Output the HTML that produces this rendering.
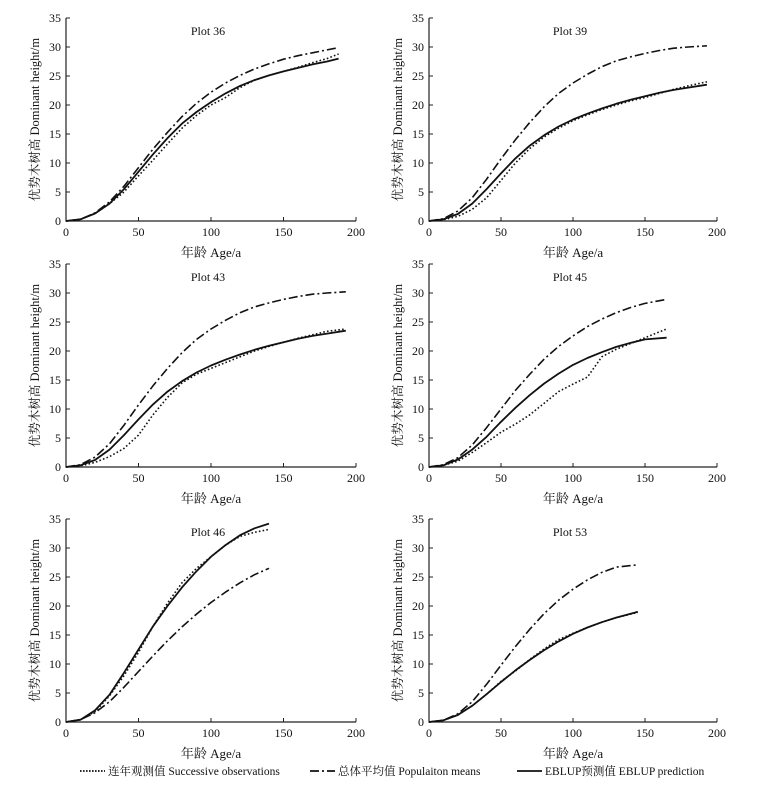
<!DOCTYPE html>
<html><head><meta charset="utf-8"><style>
html,body{margin:0;padding:0;background:#fff}
svg text{font-family:"Liberation Serif","Noto Serif CJK SC",serif;fill:#111}
</style></head><body>
<svg id="chart" width="779" height="792"></svg>
<script>
const plotTitles=["Plot 36","Plot 39","Plot 43","Plot 45","Plot 46","Plot 53"];
const ages36=[0,10,20,30,40,50,60,70,80,90,100,110,120,130,140,150,160,170,180,188];
const obs36=[0,0.3,1.3,3,5,7.8,10.5,13.3,16,18.2,20,21.3,23,24.3,25.1,25.8,26.5,27.3,28,28.8];
const pop36=[0,0.3,1.4,3.3,6,9.2,12.4,15.3,18,20.3,22.2,23.8,25.1,26.2,27.1,27.9,28.5,29,29.5,29.9];
const eb36=[0,0.3,1.3,3,5.5,8.5,11.5,14.3,16.8,18.8,20.5,22,23.3,24.3,25.1,25.8,26.4,27,27.5,28];
const ages39=[0,10,20,30,40,50,60,70,80,90,100,110,120,130,140,150,160,170,180,193];
const obs39=[0,0.2,0.8,2,4,7,10,12.5,14.5,16,17.3,18.3,19.2,20,20.7,21.3,22,22.7,23.3,24];
const pop39=[0,0.4,1.7,4,7.2,10.7,14,17,19.7,22,23.8,25.3,26.6,27.6,28.3,28.9,29.4,29.8,30,30.2];
const eb39=[0,0.3,1.2,3,5.5,8.2,10.8,13,14.8,16.3,17.5,18.5,19.4,20.2,20.9,21.5,22.1,22.6,23,23.5];
const ages43=ages39;
const obs43=[0,0.2,0.8,1.8,3.2,5.5,9,12,14.5,16,17,18,19,20,20.8,21.5,22.2,22.8,23.4,23.8];
const pop43=pop39;
const eb43=eb39;
const ages45=[0,10,20,30,40,50,60,70,80,90,100,110,120,130,140,150,165];
const obs45=[0,0.3,1,2.5,4.2,6,7.4,9,11,13,14.3,15.5,19,20.3,21.3,22.3,23.8];
const pop45=[0,0.4,1.6,3.8,6.8,10,13.2,16,18.6,20.8,22.6,24.2,25.5,26.6,27.5,28.2,28.9];
const eb45=[0,0.3,1.3,3,5.2,7.8,10.2,12.4,14.4,16.1,17.6,18.8,19.8,20.7,21.4,22,22.3];
const ages46=[0,10,20,30,40,50,60,70,80,90,100,110,120,130,140];
const obs46=[0,0.4,1.8,4.5,8,12,16.5,20.5,24,26.5,28.5,30.5,32,32.7,33.2];
const pop46=[0,0.4,1.6,3.5,6,8.7,11.4,14,16.4,18.6,20.6,22.4,24,25.4,26.5];
const eb46=[0,0.4,2,4.7,8.5,12.5,16.5,20,23.2,26,28.5,30.5,32.2,33.4,34.2];
const ages53=[0,10,20,30,40,50,60,70,80,90,100,110,120,130,145];
const obs53=[0,0.3,1.2,2.8,4.8,7,8.8,10.8,12.6,14.2,15.3,16.3,17.2,18,18.9];
const pop53=[0,0.3,1.4,3.5,6.5,9.8,13,16,18.7,21,22.9,24.5,25.8,26.7,27.1];
const eb53=[0,0.3,1.2,2.8,4.8,6.9,8.9,10.7,12.4,13.9,15.2,16.3,17.2,18,19];
const xTicks=[0,50,100,150,200];
const yTicks=[0,5,10,15,20,25,30,35];
const panelsData=[[ages36,obs36,pop36,eb36],[ages39,obs39,pop39,eb39],[ages43,obs43,pop43,eb43],[ages45,obs45,pop45,eb45],[ages46,obs46,pop46,eb46],[ages53,obs53,pop53,eb53]];

const NS="http://www.w3.org/2000/svg";
const svg=document.getElementById('chart');
function mk(tag,attrs,parent){const e=document.createElementNS(NS,tag);for(const k in attrs)e.setAttribute(k,attrs[k]);(parent||svg).appendChild(e);return e;}
const colX=[[66,356],[429,717]];
const rowY=[221,467,722];
const H=203;
panelsData.forEach((pd,i)=>{
  const c=i%2,r=Math.floor(i/2);
  const x0=colX[c][0],x1=colX[c][1],y0=rowY[r];
  const sx=v=>x0+(v/200)*(x1-x0);
  const sy=v=>y0-(v/35)*H;
  const g=mk('g',{});
  
  
  const ax=mk('path',{d:`M${x0},${sy(35)}V${y0}H${x1}`,stroke:'#222','stroke-width':1.2,fill:'none'},g);
  
  
  xTicks.forEach(t=>{
    mk('line',{x1:sx(t),x2:sx(t),y1:y0,y2:y0-4,stroke:'#222'},g);
    const tx=mk('text',{x:sx(t),y:y0+15,'text-anchor':'middle','font-size':12},g);tx.textContent=t;
    
    
  });
  yTicks.forEach(t=>{
    mk('line',{x1:x0,x2:x0+4,y1:sy(t),y2:sy(t),stroke:'#222'},g);
    const tx=mk('text',{x:x0-5,y:sy(t)+4,'text-anchor':'end','font-size':12},g);tx.textContent=t;
    
    
  });
  const tt=mk('text',{x:(x0+x1)/2-3,y:sy(35)+17,'text-anchor':'middle','font-size':12},g);tt.textContent=plotTitles[i];
  
  
  const xl=mk('text',{x:(x0+x1)/2,y:y0+36,'text-anchor':'middle','font-size':13},g);xl.textContent='年龄 Age/a';
  
  
  const yl=mk('text',{x:0,y:0,'text-anchor':'middle','font-size':12.5,transform:`translate(${x0-27},${y0-H/2}) rotate(-90)`},g);yl.textContent='优势木树高 Dominant height/m';
  
  
  const ages=pd[0];
  const styles=[['1.6,2.2',1.6,'observed-line'],['9,3,2,3',1.6,'population-mean-line'],['',1.8,'eblup-line']];
  [1,2,3].forEach((s,k)=>{
    const vals=pd[s];
    const d=vals.map((v,j)=>(j?'L':'M')+sx(ages[j]).toFixed(1)+','+sy(v).toFixed(1)).join('');
    const p=mk('path',{d,fill:'none',stroke:'#111','stroke-width':styles[k][1],'stroke-dasharray':styles[k][0],'stroke-linejoin':'round'},g);
    
    
  });
});
// legend
const lg=mk('g',{});


const items=[[80,'1.6,1.4','连年观测值 Successive observations'],[310,'9,3,2,3','总体平均值 Populaiton means'],[517,'','EBLUP预测值 EBLUP prediction']];
items.forEach((it,k)=>{
  const lx=it[0];
  mk('line',{x1:lx,x2:lx+25,y1:771,y2:771,stroke:'#111','stroke-width':1.8,'stroke-dasharray':it[1]},lg);
  const t=mk('text',{x:lx+28,y:775,'font-size':11.5},lg);t.textContent=it[2];
  
  
});
</script>
</body></html>
